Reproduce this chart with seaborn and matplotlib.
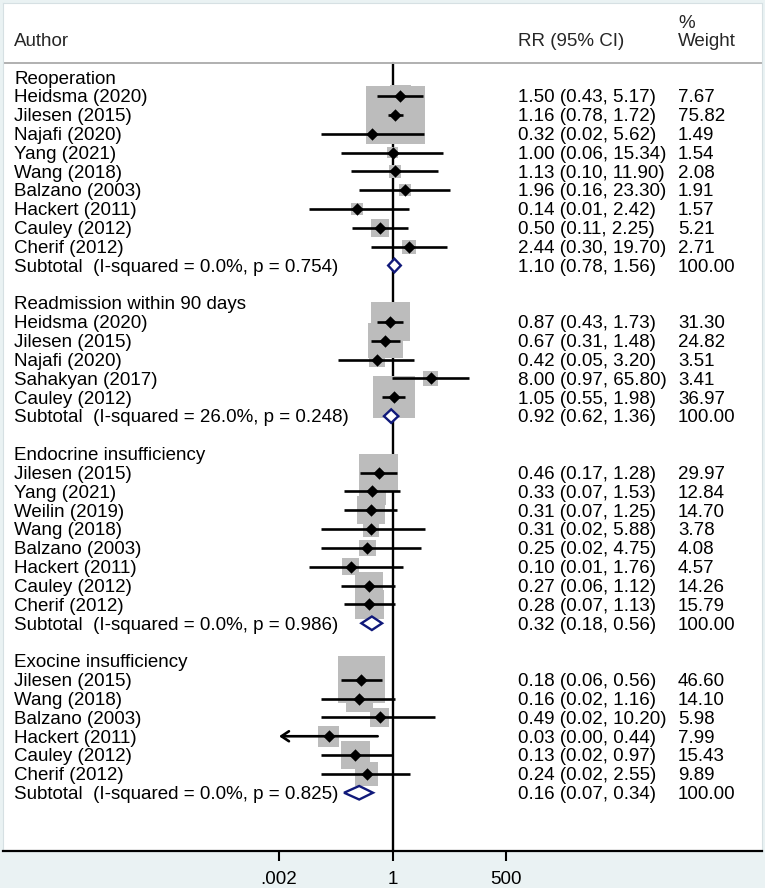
import numpy as np
import matplotlib
matplotlib.use("Agg")
import matplotlib.pyplot as plt
import matplotlib.transforms as mtransforms
import seaborn as sns

# ---- data ----
group_names = ["Reoperation", "Readmission within 90 days",
               "Endocrine insufficiency", "Exocine insufficiency"]

reop_authors = ["Heidsma (2020)", "Jilesen (2015)", "Najafi (2020)", "Yang (2021)",
                "Wang (2018)", "Balzano (2003)", "Hackert (2011)", "Cauley (2012)",
                "Cherif (2012)"]
reop_rr = [1.50, 1.16, 0.32, 1.00, 1.13, 1.96, 0.14, 0.50, 2.44]
reop_lo = [0.43, 0.78, 0.02, 0.06, 0.10, 0.16, 0.01, 0.11, 0.30]
reop_hi = [5.17, 1.72, 5.62, 15.34, 11.90, 23.30, 2.42, 2.25, 19.70]
reop_wt = [7.67, 75.82, 1.49, 1.54, 2.08, 1.91, 1.57, 5.21, 2.71]

readm_authors = ["Heidsma (2020)", "Jilesen (2015)", "Najafi (2020)",
                 "Sahakyan (2017)", "Cauley (2012)"]
readm_rr = [0.87, 0.67, 0.42, 8.00, 1.05]
readm_lo = [0.43, 0.31, 0.05, 0.97, 0.55]
readm_hi = [1.73, 1.48, 3.20, 65.80, 1.98]
readm_wt = [31.30, 24.82, 3.51, 3.41, 36.97]

endo_authors = ["Jilesen (2015)", "Yang (2021)", "Weilin (2019)", "Wang (2018)",
                "Balzano (2003)", "Hackert (2011)", "Cauley (2012)", "Cherif (2012)"]
endo_rr = [0.46, 0.33, 0.31, 0.31, 0.25, 0.10, 0.27, 0.28]
endo_lo = [0.17, 0.07, 0.07, 0.02, 0.02, 0.01, 0.06, 0.07]
endo_hi = [1.28, 1.53, 1.25, 5.88, 4.75, 1.76, 1.12, 1.13]
endo_wt = [29.97, 12.84, 14.70, 3.78, 4.08, 4.57, 14.26, 15.79]

exo_authors = ["Jilesen (2015)", "Wang (2018)", "Balzano (2003)", "Hackert (2011)",
               "Cauley (2012)", "Cherif (2012)"]
exo_rr = [0.18, 0.16, 0.49, 0.03, 0.13, 0.24]
exo_lo = [0.06, 0.02, 0.02, 0.00, 0.02, 0.02]
exo_hi = [0.56, 1.16, 10.20, 0.44, 0.97, 2.55]
exo_wt = [46.60, 14.10, 5.98, 7.99, 15.43, 9.89]

sub_rr = [1.10, 0.92, 0.32, 0.16]
sub_lo = [0.78, 0.62, 0.18, 0.07]
sub_hi = [1.56, 1.36, 0.56, 0.34]
i_squared = ["0.0", "26.0", "0.0", "0.0"]
p_values = ["0.754", "0.248", "0.986", "0.825"]

x_ticks = [0.002, 1, 500]
x_tick_labels = [".002", "1", "500"]

studies = [
    (reop_authors, reop_rr, reop_lo, reop_hi, reop_wt),
    (readm_authors, readm_rr, readm_lo, readm_hi, readm_wt),
    (endo_authors, endo_rr, endo_lo, endo_hi, endo_wt),
    (exo_authors, exo_rr, exo_lo, exo_hi, exo_wt),
]

# ---- layout (pixels of the 765x888 picture) ----
W, H = 765, 888
X1_PX, PX_DEC = 392.7, 42.1          # position of RR=1 and pixels per decade
ROW0_PX, ROW_PX = 77.2, 18.83        # first row centre and row pitch
AX_L, AX_R, AX_T, AX_B = 3, 762, 3, 851
HDR_LINE_PX = 63

def px_to_rr(px):
    return 10 ** ((px - X1_PX) / PX_DEC)

def px_to_row(py):
    return (py - ROW0_PX) / ROW_PX

FS = 13.5
NAVY = "#10197a"
BOX = "#bcbcbc"
BG = "#eaf2f3"
LW = 1.9

sns.set_theme(style="white")
plt.rcParams["font.family"] = ["Liberation Sans", "DejaVu Sans"]

fig = plt.figure(figsize=(W / 100, H / 100), dpi=100, facecolor=BG)
ax = fig.add_axes([AX_L / W, (H - AX_B) / H, (AX_R - AX_L) / W, (AX_B - AX_T) / H])
ax.set_facecolor("white")

trans = mtransforms.blended_transform_factory(ax.transAxes, ax.transData)
def col(px):
    return (px - AX_L) / (AX_R - AX_L)

LABEL_X, RR_X, WT_X = col(14), col(518.5), col(678)
BASE = 0.335   # baseline offset below row centre, in rows

def put(xf, row, s):
    ax.text(xf, row + BASE, s, transform=trans, fontsize=FS, color="black",
            ha="left", va="baseline")

# ---- build rows ----
pt_rows, pt_rr, pt_lo, pt_hi, pt_wt = [], [], [], [], []
row = 0
for g, (authors, rr, lo, hi, wt) in enumerate(studies):
    put(LABEL_X, row, group_names[g])
    row += 1
    for a, r, l, h, w in zip(authors, rr, lo, hi, wt):
        put(LABEL_X, row, a)
        put(RR_X, row, f"{r:.2f} ({l:.2f}, {h:.2f})")
        put(WT_X, row, f"{w:.2f}")
        pt_rows.append(row); pt_rr.append(r); pt_lo.append(l); pt_hi.append(h); pt_wt.append(w)
        row += 1
    put(LABEL_X, row, f"Subtotal  (I-squared = {i_squared[g]}%, p = {p_values[g]})")
    put(RR_X, row, f"{sub_rr[g]:.2f} ({sub_lo[g]:.2f}, {sub_hi[g]:.2f})")
    put(WT_X, row, "100.00")
    dh = 0.36
    ax.fill([sub_lo[g], sub_rr[g], sub_hi[g], sub_rr[g]],
            [row, row - dh, row, row + dh],
            facecolor="white", edgecolor=NAVY, lw=1.7, zorder=5)
    row += 2

pt_rows = np.array(pt_rows, dtype=float)
pt_rr = np.array(pt_rr); pt_lo = np.array(pt_lo)
pt_hi = np.array(pt_hi); pt_wt = np.array(pt_wt)

# weight boxes (side grows with sqrt of weight)
side_pt = (6.33 * np.sqrt(pt_wt) + 3.6) * 0.72
sns.scatterplot(x=pt_rr, y=pt_rows, s=side_pt ** 2, marker="s", color=BOX,
                linewidth=0, ax=ax, zorder=2, legend=False)
sns.scatterplot(x=pt_rr, y=pt_rows, s=40, marker="D", color="black",
                linewidth=0, ax=ax, zorder=4, legend=False)

ax.set_xscale("log")
xmin, xmax = px_to_rr(AX_L), px_to_rr(AX_R)
clip_lo = x_ticks[0]

# confidence intervals
inside = pt_lo >= clip_lo
ax.hlines(pt_rows[inside], pt_lo[inside], pt_hi[inside], color="black", lw=LW, zorder=3)
for r, h in zip(pt_rows[~inside], pt_hi[~inside]):
    ax.annotate("", xy=(clip_lo, r), xytext=(h, r),
                arrowprops=dict(arrowstyle="->,head_length=0.45,head_width=0.3",
                                lw=LW, color="black", shrinkA=0, shrinkB=0,
                                mutation_scale=12), zorder=3)

# reference line and header
hdr_row = px_to_row(HDR_LINE_PX)
bottom_row = px_to_row(AX_B)
ax.plot([1, 1], [hdr_row, bottom_row], color="black", lw=1.7, zorder=1)
ax.axhline(hdr_row, color="#b0b0b0", lw=1.4, zorder=1)

hdr_base = px_to_row(46.5)
ax.text(LABEL_X, hdr_base, "Author", transform=trans, fontsize=FS, va="baseline")
ax.text(RR_X, hdr_base, "RR (95% CI)", transform=trans, fontsize=FS, va="baseline")
ax.text(WT_X, hdr_base, "Weight", transform=trans, fontsize=FS, va="baseline")
ax.text(WT_X, px_to_row(28.3), "%", transform=trans, fontsize=FS, va="baseline")

ax.set_xlim(xmin, xmax)
ax.set_ylim(bottom_row, px_to_row(AX_T))
ax.minorticks_off()
ax.set_xticks(x_ticks)
ax.set_xticklabels(x_tick_labels)
ax.set_yticks([])
ax.tick_params(axis="x", direction="out", length=7.2, width=1.5, pad=7,
               labelsize=FS, colors="black", bottom=True)
for s in ["left", "right", "top"]:
    ax.spines[s].set_color("#d6e0e3")
    ax.spines[s].set_linewidth(0.8)
ax.spines["bottom"].set_color("black")
ax.spines["bottom"].set_linewidth(1.6)
ax.set_xlabel("")
ax.set_ylabel("")

fig.savefig("out.png", dpi=100, facecolor=fig.get_facecolor())
